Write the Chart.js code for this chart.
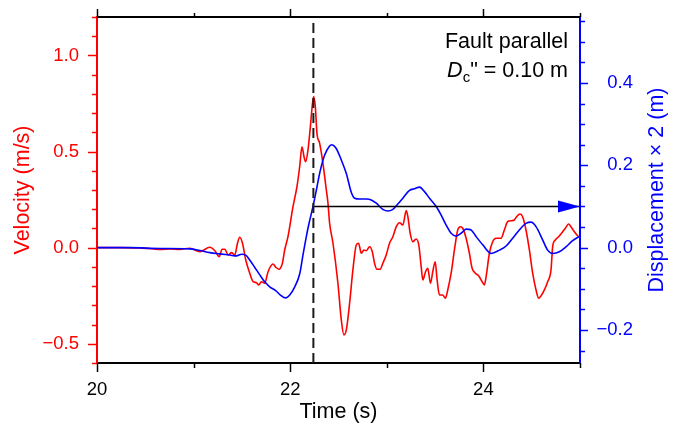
<!DOCTYPE html>
<html>
<head>
<meta charset="utf-8">
<title>Fault parallel velocity / displacement</title>
<script src="https://cdn.jsdelivr.net/npm/chart.js@4.4.1/dist/chart.umd.min.js"></script>
<style>
  html, body { margin: 0; padding: 0; background: #fff; }
  #chart { display: block; }
</style>
</head>
<body>
<canvas id="chart" width="677" height="428"></canvas>
<script>
/* Velocity (red, left axis) and displacement x 2 (blue, right axis),
   fault-parallel component. */

// Velocity trace (m/s)
const velTime = [20.000, 20.238, 20.444, 20.548, 20.651, 20.755, 20.858, 20.961, 21.065, 21.168,
  21.220, 21.264, 21.295, 21.323, 21.357, 21.392, 21.426, 21.454, 21.478, 21.506,
  21.540, 21.581, 21.616, 21.651, 21.674, 21.702, 21.736, 21.771, 21.822, 21.850,
  21.884, 21.919, 21.943, 21.977, 22.029, 22.070, 22.098, 22.122, 22.143, 22.160,
  22.184, 22.209, 22.229, 22.243, 22.260, 22.277, 22.305, 22.339, 22.374, 22.391,
  22.408, 22.443, 22.494, 22.529, 22.556, 22.581, 22.615, 22.649, 22.684, 22.708,
  22.736, 22.763, 22.788, 22.822, 22.850, 22.873, 22.897, 22.932, 22.959, 22.994,
  23.028, 23.063, 23.098, 23.132, 23.166, 23.201, 23.218, 23.242, 23.269, 23.304,
  23.331, 23.356, 23.373, 23.401, 23.424, 23.452, 23.476, 23.501, 23.521, 23.545,
  23.579, 23.607, 23.631, 23.666, 23.700, 23.734, 23.762, 23.786, 23.821, 23.855,
  23.883, 23.917, 23.952, 23.987, 24.010, 24.028, 24.062, 24.096, 24.131, 24.183,
  24.217, 24.251, 24.286, 24.320, 24.344, 24.379, 24.406, 24.441, 24.476, 24.510,
  24.545, 24.572, 24.596, 24.631, 24.665, 24.700, 24.717, 24.744, 24.778, 24.813,
  24.848, 24.882, 24.906, 24.941, 24.975, 25.000];
const velValue = [0.000, 0.000, -0.002, -0.004, -0.009, -0.007, -0.009, -0.003, -0.021, 0.002,
  -0.016, -0.047, -0.008, -0.008, -0.038, -0.026, -0.038, 0.023, 0.054, 0.023,
  -0.064, -0.133, -0.177, -0.182, -0.194, -0.177, -0.185, -0.125, -0.085, -0.102,
  -0.112, -0.081, -0.012, 0.057, 0.213, 0.317, 0.421, 0.525, 0.473, 0.447,
  0.508, 0.630, 0.742, 0.786, 0.734, 0.595, 0.543, 0.439, 0.300, 0.231,
  0.127, 0.023, -0.185, -0.376, -0.454, -0.428, -0.289, -0.116, 0.014, 0.023,
  -0.029, -0.012, -0.016, 0.005, -0.021, -0.081, -0.112, -0.112, -0.081, -0.038,
  0.023, 0.057, 0.109, 0.130, 0.118, 0.193, 0.161, 0.075, 0.031, 0.045,
  0.014, -0.099, -0.168, -0.125, -0.107, -0.185, -0.125, -0.073, -0.168, -0.246,
  -0.246, -0.263, -0.220, -0.133, -0.012, 0.092, 0.109, 0.101, 0.049, -0.029,
  -0.107, -0.133, -0.147, -0.177, -0.194, -0.151, -0.029, 0.031, 0.049, 0.049,
  0.092, 0.135, 0.140, 0.144, 0.161, 0.175, 0.161, 0.092, -0.012, -0.133,
  -0.220, -0.263, -0.251, -0.220, -0.177, -0.116, 0.005, 0.040, 0.057, 0.078,
  0.101, 0.123, 0.109, 0.083, 0.062, 0.055];

// Displacement x 2 trace (m)
const dispTime = [20.000, 20.341, 20.651, 20.961, 21.065, 21.168, 21.271, 21.375, 21.444, 21.496,
  21.540, 21.581, 21.633, 21.685, 21.736, 21.788, 21.850, 21.899, 21.954, 21.995,
  22.047, 22.098, 22.132, 22.167, 22.194, 22.236, 22.271, 22.308, 22.357, 22.408,
  22.429, 22.470, 22.529, 22.581, 22.633, 22.667, 22.718, 22.788, 22.839, 22.891,
  22.959, 23.011, 23.063, 23.114, 23.166, 23.235, 23.287, 23.339, 23.390, 23.442,
  23.511, 23.563, 23.614, 23.666, 23.718, 23.769, 23.821, 23.873, 23.924, 23.993,
  24.080, 24.166, 24.235, 24.303, 24.372, 24.441, 24.493, 24.545, 24.613, 24.665,
  24.717, 24.786, 24.855, 24.924, 25.000];
const dispValue = [0.000, 0.000, -0.002, -0.003, -0.007, -0.012, -0.015, -0.018, -0.020, -0.016,
  -0.018, -0.030, -0.048, -0.066, -0.083, -0.095, -0.104, -0.115, -0.122, -0.115,
  -0.095, -0.064, -0.018, 0.027, 0.058, 0.100, 0.140, 0.184, 0.225, 0.247,
  0.250, 0.243, 0.213, 0.180, 0.134, 0.120, 0.118, 0.118, 0.116, 0.108,
  0.093, 0.089, 0.093, 0.106, 0.120, 0.139, 0.143, 0.147, 0.136, 0.120,
  0.100, 0.079, 0.055, 0.035, 0.028, 0.035, 0.045, 0.043, 0.027, 0.007,
  -0.014, -0.006, 0.004, 0.023, 0.043, 0.059, 0.062, 0.051, 0.019, -0.006,
  -0.014, -0.010, 0.002, 0.017, 0.028];

// Marker: rupture time (dashed) and Dc'' level (arrow)
const slipTime = 22.24;
const arrowEnd = 25;
const dcLevel = 0.10;

// Axis ranges and ticks
const timeRange = [20, 25];
const velRange = [-0.6, 1.2];
const dispRange = [-0.28, 0.56];
const timeTicks = [20, 22, 24];
const timeMinor = [21, 23, 25];
const velTicks = [-0.5, 0, 0.5, 1.0];
const velMinor = [-0.6, -0.4, -0.3, -0.2, -0.1, 0.1, 0.2, 0.3, 0.4, 0.6, 0.7, 0.8, 0.9, 1.1, 1.2];
const dispTicks = [-0.2, 0, 0.2, 0.4];
const dispMinor = [-0.25, -0.15, -0.1, -0.05, 0.05, 0.1, 0.15, 0.25, 0.3, 0.35, 0.45, 0.5, 0.55];
const dispTitle = 'Displacement \u00d7 2 (m)';

const FONT = "'Liberation Sans', Arial, Helvetica, sans-serif";
const RED = '#ff0000';
const BLUE = '#0000ff';

const fmt = v => (v < 0 ? '\u2212' : '') + Math.abs(v).toFixed(1);
const zip = (xs, ys) => xs.map((x, i) => ({ x, y: ys[i] }));

/** Ticks, top frame, right labels + title, dashed line, arrowhead, annotation */
const figureDecor = {
  id: 'figureDecor',

  afterDatasetsDraw(chart) {
    const { ctx, chartArea: a, scales: { x, yD } } = chart;
    const px = x.getPixelForValue(slipTime);
    ctx.save();
    ctx.strokeStyle = '#1a1a1a';
    ctx.lineWidth = 2;
    ctx.setLineDash([10, 5]);
    ctx.beginPath();
    ctx.moveTo(px, a.bottom);
    ctx.lineTo(px, a.top + 6);
    ctx.stroke();

    // arrow head at the end of the Dc'' line
    const tipX = x.getPixelForValue(arrowEnd);
    const ay = yD.getPixelForValue(dcLevel);
    ctx.setLineDash([]);
    ctx.fillStyle = BLUE;
    ctx.beginPath();
    ctx.moveTo(tipX, ay);
    ctx.lineTo(tipX - 22, ay - 6);
    ctx.lineTo(tipX - 22, ay + 6);
    ctx.closePath();
    ctx.fill();
    ctx.restore();
  },

  afterDraw(chart) {
    const { ctx, chartArea: a, scales: { x, yV, yD } } = chart;
    ctx.save();

    const hTicks = (vals, len, dir) => {
      vals.forEach(v => {
        const p = Math.round(x.getPixelForValue(v)) + 0.5;
        const y0 = dir > 0 ? a.bottom : a.top;
        ctx.beginPath(); ctx.moveTo(p, y0); ctx.lineTo(p, y0 + dir * len); ctx.stroke();
      });
    };
    const vTicks = (scale, vals, len, dir) => {
      vals.forEach(v => {
        const p = Math.round(scale.getPixelForValue(v)) + 0.5;
        const x0 = dir < 0 ? a.left : a.right;
        ctx.beginPath(); ctx.moveTo(x0, p); ctx.lineTo(x0 + dir * len, p); ctx.stroke();
      });
    };

    // top frame + time ticks (bottom and top)
    ctx.strokeStyle = '#000';
    ctx.lineWidth = 2;
    ctx.beginPath(); ctx.moveTo(a.left, a.top); ctx.lineTo(a.right, a.top); ctx.stroke();
    ctx.lineWidth = 1.5;
    hTicks(timeTicks, 9, 1); hTicks(timeMinor, 5, 1);
    hTicks(timeTicks, 8, -1); hTicks(timeMinor, 4, -1);

    ctx.strokeStyle = RED;
    vTicks(yV, velTicks, 9, -1); vTicks(yV, velMinor, 5, -1);
    ctx.strokeStyle = BLUE;
    vTicks(yD, dispTicks, 8, 1); vTicks(yD, dispMinor, 5, 1);

    // right axis labels (right-aligned like the original)
    ctx.fillStyle = BLUE;
    ctx.font = `18.5px ${FONT}`;
    ctx.textAlign = 'right';
    ctx.textBaseline = 'middle';
    dispTicks.forEach(v => ctx.fillText(fmt(v), a.right + 53, yD.getPixelForValue(v)));

    // right axis title, reading bottom to top
    ctx.save();
    ctx.translate(a.right + 77, (a.top + a.bottom) / 2);
    ctx.rotate(-Math.PI / 2);
    ctx.textAlign = 'center';
    ctx.font = `21.5px ${FONT}`;
    ctx.fillText(dispTitle, 0, 0);
    ctx.restore();

    // annotation, top right
    ctx.fillStyle = '#000';
    ctx.textAlign = 'right';
    ctx.textBaseline = 'alphabetic';
    ctx.font = `21.5px ${FONT}`;
    const rx = a.right - 12;
    ctx.fillText('Fault parallel', rx, a.top + 31);

    const rest = '" = 0.10 m';
    const by = a.top + 60;
    ctx.textAlign = 'left';
    const wRest = ctx.measureText(rest).width;
    ctx.font = `15px ${FONT}`;
    const wSub = ctx.measureText('c').width;
    ctx.font = `italic 21.5px ${FONT}`;
    const wD = ctx.measureText('D').width;
    let cx = rx - (wD + wSub + wRest);
    ctx.fillText('D', cx, by); cx += wD;
    ctx.font = `15px ${FONT}`;
    ctx.fillText('c', cx, by + 5); cx += wSub;
    ctx.font = `21.5px ${FONT}`;
    ctx.fillText(rest, cx, by);
    ctx.restore();
  },
};

const setTicks = vals => scale => { scale.ticks = vals.map(value => ({ value })); };
const fixWidth = w => s => { s.width = w; s.paddingTop = 0; s.paddingBottom = 0; };

new Chart(document.getElementById('chart'), {
  type: 'line',
  data: {
    datasets: [
      {
        label: 'Dc level',
        data: [{ x: slipTime, y: dcLevel }, { x: arrowEnd, y: dcLevel }],
        yAxisID: 'yD',
        borderColor: '#000',
        borderWidth: 1.5,
        pointRadius: 0,
      },
      {
        label: 'Displacement x 2',
        data: zip(dispTime, dispValue),
        yAxisID: 'yD',
        borderColor: BLUE,
        borderWidth: 1.6,
        pointRadius: 0,
        cubicInterpolationMode: 'monotone',
      },
      {
        label: 'Velocity',
        data: zip(velTime, velValue),
        yAxisID: 'yV',
        borderColor: RED,
        borderWidth: 1.6,
        pointRadius: 0,
        cubicInterpolationMode: 'monotone',
      },
    ],
  },
  options: {
    responsive: false,
    animation: false,
    events: [],
    layout: { padding: { top: 17, left: 0, right: 0, bottom: 0 } },
    plugins: { legend: { display: false }, tooltip: { enabled: false } },
    scales: {
      x: {
        type: 'linear',
        min: timeRange[0],
        max: timeRange[1],
        afterBuildTicks: setTicks(timeTicks),
        afterFit: s => { s.height = 65; s.paddingLeft = 0; s.paddingRight = 0; },
        grid: { display: false, drawTicks: false },
        border: { color: '#000', width: 2 },
        ticks: { padding: 16, color: '#000', font: { family: FONT, size: 18.5 }, callback: v => String(v) },
        title: { display: true, text: 'Time (s)', color: '#000', font: { family: FONT, size: 21.5 }, padding: { top: 0, bottom: 3 } },
      },
      yV: {
        type: 'linear',
        position: 'left',
        min: velRange[0],
        max: velRange[1],
        afterBuildTicks: setTicks(velTicks),
        afterFit: fixWidth(97),
        grid: { display: false, drawTicks: false },
        border: { color: RED, width: 2 },
        ticks: { padding: 18, color: RED, font: { family: FONT, size: 18.5 }, callback: v => fmt(v) },
        title: { display: true, text: 'Velocity (m/s)', color: RED, font: { family: FONT, size: 21.5 }, padding: { top: 10, bottom: 0 } },
      },
      yD: {
        type: 'linear',
        position: 'right',
        min: dispRange[0],
        max: dispRange[1],
        afterBuildTicks: setTicks(dispTicks),
        afterFit: fixWidth(97),
        grid: { display: false, drawTicks: false },
        border: { color: BLUE, width: 2 },
        ticks: { display: false },
        title: { display: false },
      },
    },
  },
  plugins: [figureDecor],
});
</script>
</body>
</html>
